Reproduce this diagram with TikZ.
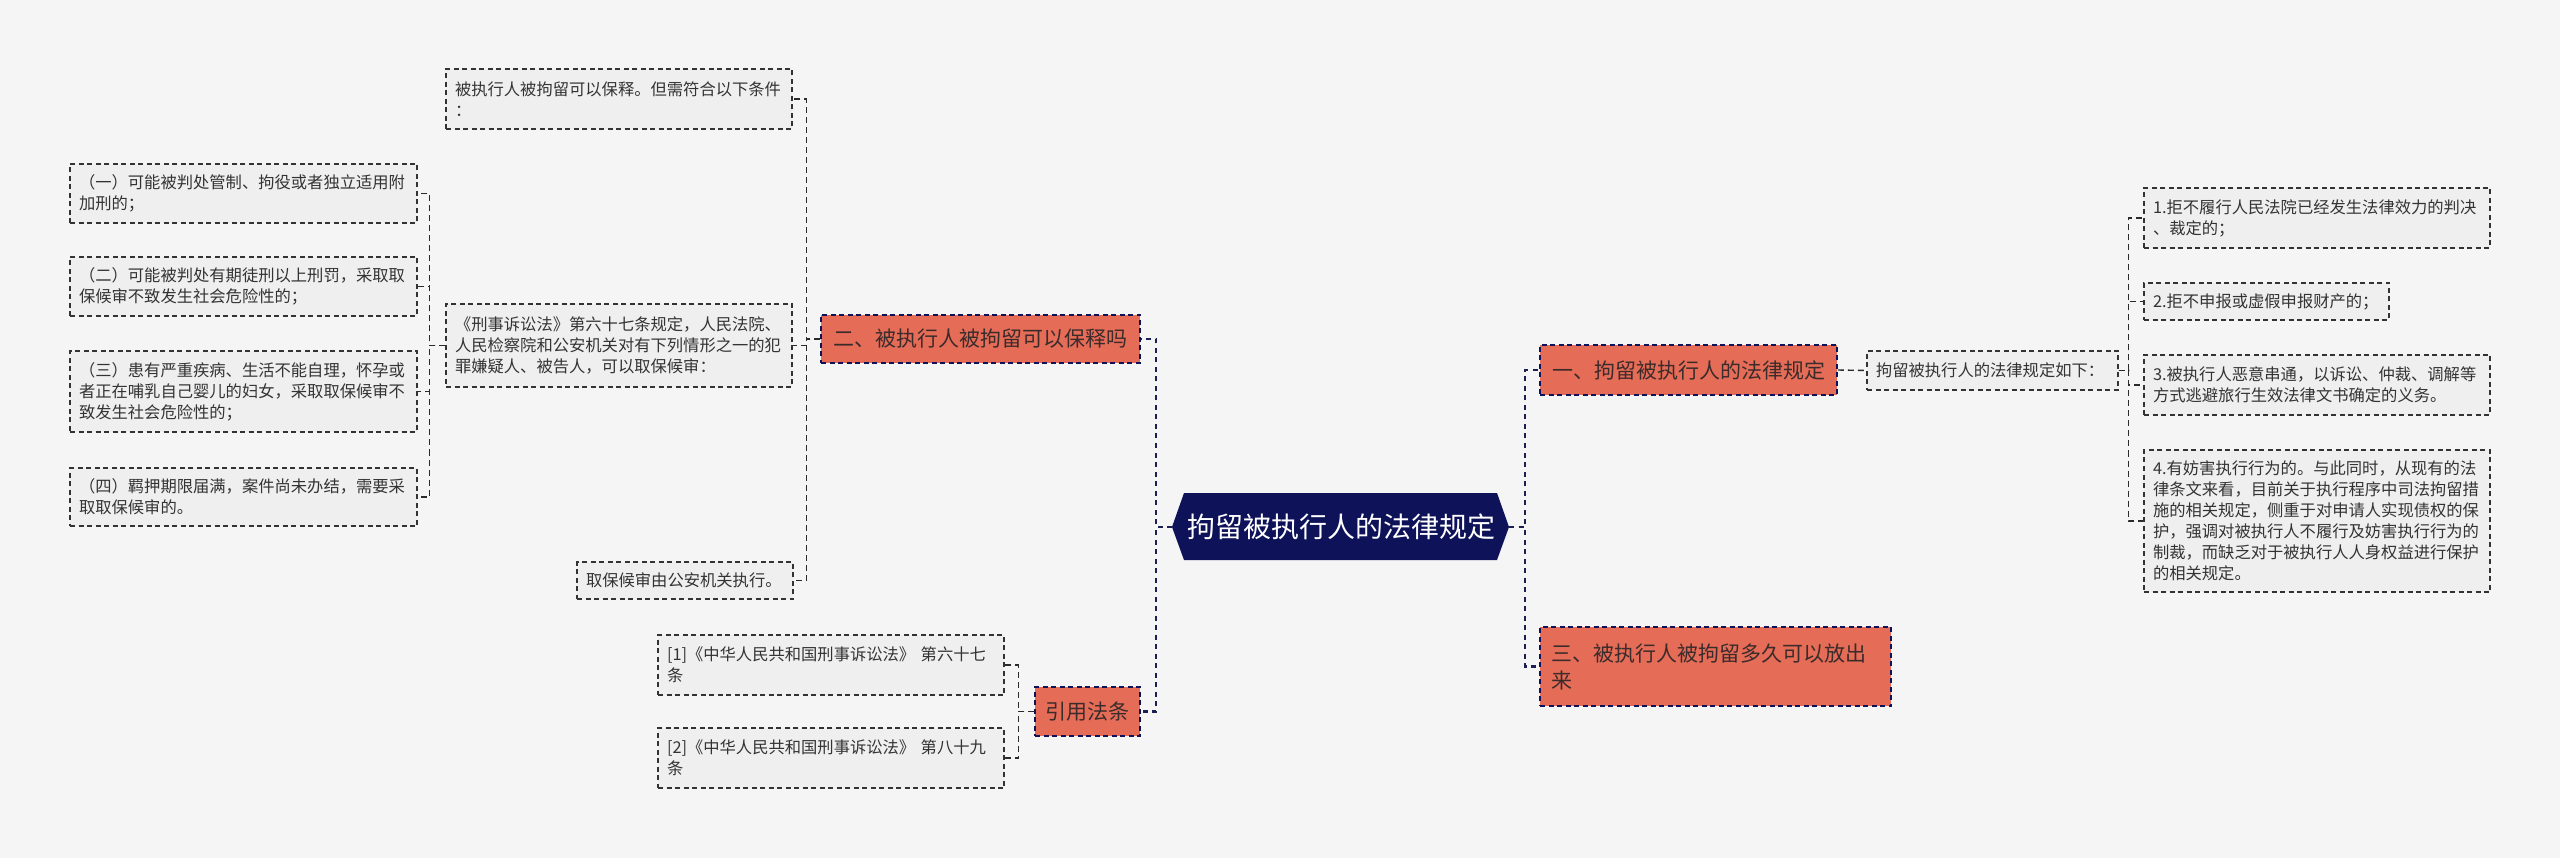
\documentclass[tikz,border=0pt]{standalone}
\usepackage{fontspec}
\newfontfamily\cjk{Noto Sans CJK SC}
\usetikzlibrary{calc}
\definecolor{bgc}{HTML}{F5F5F5}
\definecolor{navy}{HTML}{0E1259}
\definecolor{coral}{HTML}{E56C57}
\definecolor{lbox}{HTML}{EFEFEF}
\definecolor{txt}{HTML}{333333}
\definecolor{ltxt}{HTML}{3B2B2B}
\definecolor{lnc}{HTML}{1C2050}
\definecolor{lnt}{HTML}{2A2A2A}
\begin{document}
\begin{tikzpicture}[x=1pt,y=-1pt,
  leaf/.style={draw=txt, dash pattern=on 5pt off 3.5pt, line width=1.4pt, fill=lbox,
    font=\cjk\fontsize{16.3}{21}\selectfont, text=txt, align=left, inner xsep=9pt, inner ysep=0pt},
  lvl/.style={draw=navy, dash pattern=on 5pt off 3.5pt, line width=1.5pt, fill=coral,
    font=\cjk\fontsize{21}{27}\selectfont, text=ltxt, inner sep=0pt},
  conn/.style={draw=lnt, dash pattern=on 6pt off 4pt, line width=1.4pt},
  mconn/.style={draw=lnc, dash pattern=on 5pt off 4.5pt, line width=2.6pt},
  ctext/.style={font=\cjk\fontsize{28}{34}\selectfont, text=white, inner sep=0pt}
]
\useasboundingbox[fill=bgc] (0,0) rectangle (2560,858);

% center
\fill[navy] (1172,527) -- (1184,493) -- (1497,493) -- (1509,527) -- (1497,560) -- (1184,560) -- cycle;
\node[ctext] (ctr) at (1341,527) {拘留被执行人的法律规定};
\coordinate (cL) at (1172,527);
\coordinate (cR) at (1509,527);

% level 1
\node[lvl, minimum width=319pt, minimum height=48pt] (n2) at (980.5,339) {二、被执行人被拘留可以保释吗};
\node[lvl, minimum width=105pt, minimum height=49pt] (ny) at (1087.5,711.5) {引用法条};
\node[lvl, minimum width=297pt, minimum height=50pt] (n1) at (1688.5,370) {一、拘留被执行人的法律规定};
\node[lvl, minimum height=79pt, text width=329pt, inner xsep=11pt, align=left] (n3) at (1715.5,666.5) {三、被执行人被拘留多久可以放出\\来};

% children of 二
\node[leaf, text width=328pt, minimum height=60pt] (a1) at (619,99) {被执行人被拘留可以保释。但需符合以下条件\\：};
\node[leaf, text width=328pt, minimum height=83pt] (a2) at (619,345.5) {《刑事诉讼法》第六十七条规定，人民法院、\\人民检察院和公安机关对有下列情形之一的犯\\罪嫌疑人、被告人，可以取保候审：};
\node[leaf, text width=198pt, minimum height=37pt] (a3) at (685,580.5) {取保候审由公安机关执行。};

% children of a2
\node[leaf, text width=329pt, minimum height=59pt] (b1) at (243.5,193.5) {（一）可能被判处管制、拘役或者独立适用附\\加刑的；};
\node[leaf, text width=329pt, minimum height=59pt] (b2) at (243.5,286.5) {（二）可能被判处有期徒刑以上刑罚，采取取\\保候审不致发生社会危险性的；};
\node[leaf, text width=329pt, minimum height=81pt] (b3) at (243.5,391.5) {（三）患有严重疾病、生活不能自理，怀孕或\\者正在哺乳自己婴儿的妇女，采取取保候审不\\致发生社会危险性的；};
\node[leaf, text width=329pt, minimum height=58pt] (b4) at (243.5,497) {（四）羁押期限届满，案件尚未办结，需要采\\取取保候审的。};

% children of 引用法条
\node[leaf, text width=328pt, minimum height=60pt] (c1) at (831,665) {[1]《中华人民共和国刑事诉讼法》 第六十七\\条};
\node[leaf, text width=328pt, minimum height=60pt] (c2) at (831,758) {[2]《中华人民共和国刑事诉讼法》 第八十九\\条};

% right side
\node[leaf, text width=233pt, minimum height=39pt] (r0) at (1992.5,370.5) {拘留被执行人的法律规定如下：};
\node[leaf, text width=328pt, minimum height=60pt] (r1) at (2317,218) {1.拒不履行人民法院已经发生法律效力的判决\\、裁定的；};
\node[leaf, text width=227pt, minimum height=37pt] (r2) at (2266.5,301.5) {2.拒不申报或虚假申报财产的；};
\node[leaf, text width=328pt, minimum height=60pt] (r3) at (2317,385) {3.被执行人恶意串通，以诉讼、仲裁、调解等\\方式逃避旅行生效法律文书确定的义务。};
\node[leaf, text width=328pt, minimum height=142pt] (r4) at (2317,521) {4.有妨害执行行为的。与此同时，从现有的法\\律条文来看，目前关于执行程序中司法拘留措\\施的相关规定，侧重于对申请人实现债权的保\\护，强调对被执行人不履行及妨害执行行为的\\制裁，而缺乏对于被执行人人身权益进行保护\\的相关规定。};

% connectors
\foreach \c in {n2,ny} \draw[mconn] (cL) -- ++(-16,0) |- (\c.east);
\foreach \c in {n1,n3} \draw[mconn] (cR) -- ++(16,0) |- (\c.west);
\foreach \c in {a1,a2,a3} \draw[conn] (n2.west) -- ++(-14,0) |- (\c.east);
\foreach \c in {b1,b2,b3,b4} \draw[conn] (a2.west) -- ++(-16,0) |- (\c.east);
\foreach \c in {c1,c2} \draw[conn] (ny.west) -- ++(-16,0) |- (\c.east);
\draw[conn] (n1.east) -- (r0.west);
\foreach \c in {r1,r2,r3,r4} \draw[conn] (r0.east) -- ++(10,0) |- (\c.west);
\end{tikzpicture}
\end{document}
